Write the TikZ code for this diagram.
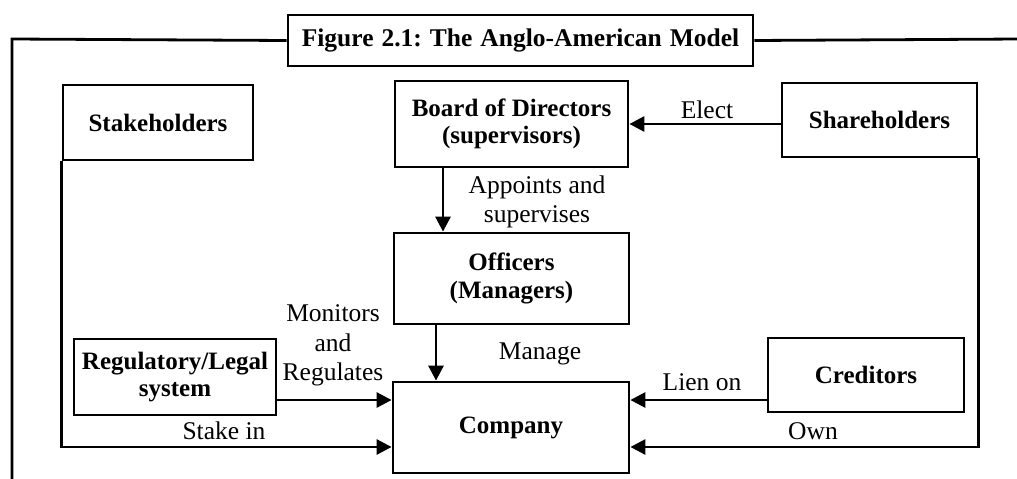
\documentclass[tikz,border=0pt]{standalone}
\usepackage{fontspec}
\setmainfont{Liberation Serif}
\usetikzlibrary{arrows.meta}
\tikzset{
  box/.style={draw, line width=2.8pt, align=center, font=\fontsize{25}{27.5}\selectfont\bfseries, inner sep=0pt},
  lbl/.style={align=center, font=\fontsize{25.5}{29.5}\selectfont, inner sep=0pt},
  arr/.style={line width=2.8pt, -{Triangle[length=15pt,width=15pt]}},
  frame/.style={line width=2.8pt}
}
\begin{document}
\begin{tikzpicture}[x=1pt,y=-1pt]
\useasboundingbox (0,0) rectangle (1017,479);
% boxes
\node[box, minimum width=465pt, minimum height=51pt, font=\fontsize{25.5}{28}\selectfont\bfseries] (title) at (520.5,40.5) {Figure\hskip 8pt 2.1:\hskip 8pt The\hskip 8pt Anglo-American\hskip 8pt Model};
\node[box, minimum width=190pt, minimum height=75pt] (stake) at (158,122.5) {Stakeholders};
\node[box, minimum width=233pt, minimum height=86pt] (board) at (511.5,124) {Board of Directors\\(supervisors)};
\node[box, minimum width=195pt, minimum height=74pt] (share) at (879.5,120) {Shareholders};
\node[box, minimum width=235pt, minimum height=91pt] (off) at (511.5,278.5) {Officers\\(Managers)};
\node[box, minimum width=202pt, minimum height=76pt] (reg) at (175,377) {Regulatory/Legal\\system};
\node[box, minimum width=236pt, minimum height=91pt] (comp) at (511,427.5) {Company};
\node[box, minimum width=196pt, minimum height=74pt] (cred) at (866,375) {Creditors};
% outer frame
\coordinate (ftl) at (12,39);
\coordinate (fbl) at (12,482);
\coordinate (fr) at (1020,39);
\draw[frame] (title.west) -- (ftl) -- (fbl);
\draw[frame] (title.east) -- (fr);
% connectors
\draw[arr] (share.west |- board.east) -- (board.east);
\coordinate (a1) at (443,0);
\draw[arr] (board.south -| a1) -- (off.north -| a1);
\coordinate (a2) at (436,0);
\draw[arr] (off.south -| a2) -- (comp.north -| a2);
\coordinate (a3) at (0,400);
\draw[arr] (reg.east |- a3) -- (comp.west |- a3);
\draw[arr] (cred.west |- a3) -- (comp.east |- a3);
\coordinate (a4) at (0,447);
\draw[arr] (stake.south west) -- (stake.south west |- a4) -- (comp.west |- a4);
\draw[arr] (share.south east) -- (share.south east |- a4) -- (comp.east |- a4);
% labels
\node[lbl] (lelect) at (707,110) {Elect};
\node[lbl] (lapp) at (537,202) {Appoints and\\supervises};
\node[lbl] (lmon) at (333,345.5) {Monitors\\and\\Regulates};
\node[lbl] (lman) at (540,354) {Manage};
\node[lbl] (llien) at (702,382) {Lien on};
\node[lbl] (lstake) at (224,431) {Stake in};
\node[lbl] (lown) at (813,431) {Own};
\end{tikzpicture}
\end{document}
